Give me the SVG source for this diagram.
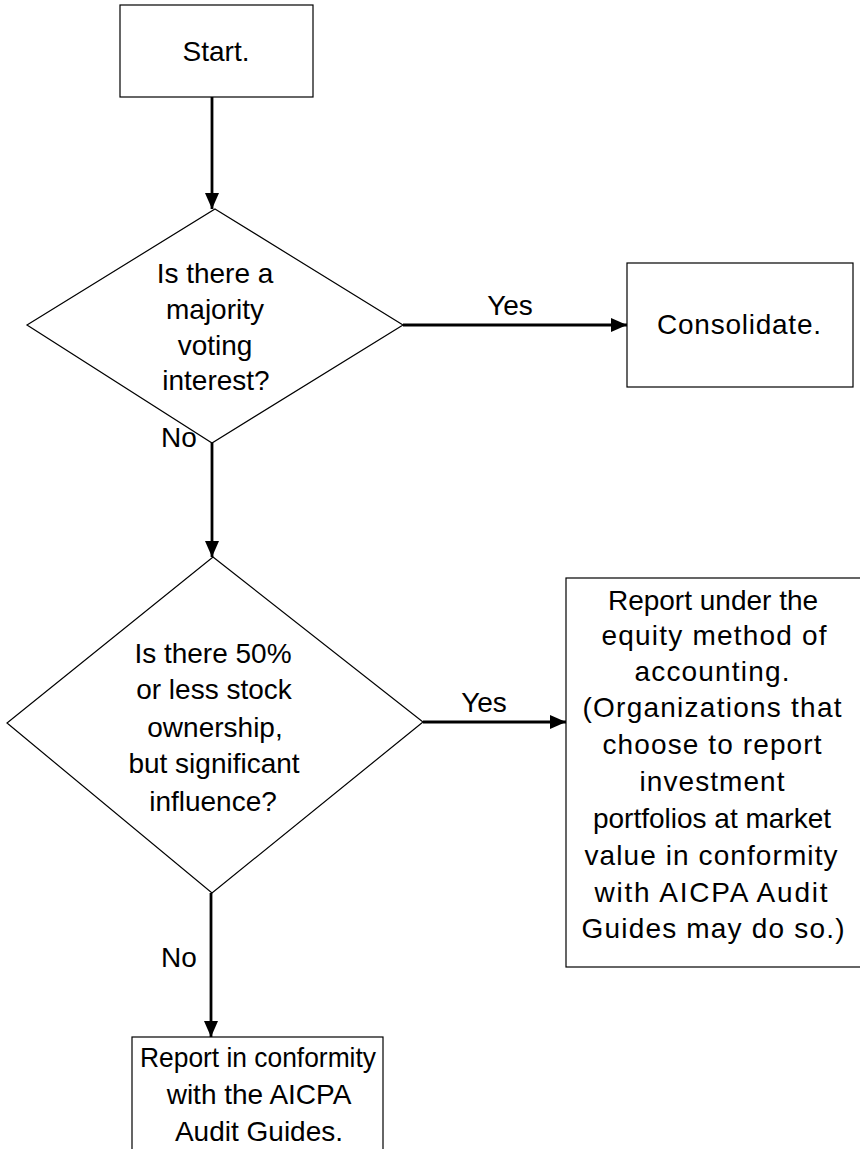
<svg xmlns="http://www.w3.org/2000/svg" width="860" height="1149" viewBox="0 0 860 1149">
<style>
.shape{fill:#fff;stroke:#000;stroke-width:1.2}
.t{font-family:"Liberation Sans",Arial,sans-serif;font-size:28px;fill:#000;text-anchor:middle}
.conn{stroke:#000;stroke-width:2.8;fill:none}
</style>
<defs>
<marker id="ah" viewBox="0 0 16 14" refX="16" refY="7" markerWidth="16" markerHeight="14" markerUnits="userSpaceOnUse" orient="auto">
<path d="M0,0 L16,7 L0,14 Z" fill="#000"/>
</marker>
</defs>
<rect width="860" height="1149" fill="#fff"/>
<g id="connectors">
<line class="conn" x1="212" y1="97" x2="212" y2="209" marker-end="url(#ah)"/>
<line class="conn" x1="403" y1="325" x2="627" y2="325" marker-end="url(#ah)"/>
<line class="conn" x1="212" y1="443" x2="212" y2="557" marker-end="url(#ah)"/>
<line class="conn" x1="423" y1="722" x2="566" y2="722" marker-end="url(#ah)"/>
<line class="conn" x1="211" y1="893" x2="211" y2="1037" marker-end="url(#ah)"/>
<text class="t" x="510" y="315">Yes</text>
<text class="t" x="179" y="447">No</text>
<text class="t" x="484" y="712">Yes</text>
<text class="t" x="179" y="967">No</text>
</g>
<g id="start">
<rect class="shape" x="120" y="5" width="193" height="92"/>
<text class="t" x="216" y="61">Start.</text>
</g>
<g id="decision1">
<polygon class="shape" points="215,209 403,325 212,443 27,325"/>
<text class="t" x="215" y="283">Is there a</text>
<text class="t" x="215" y="319">majority</text>
<text class="t" x="215" y="355">voting</text>
<text class="t" x="216" y="390">interest?</text>
</g>
<g id="consolidate">
<rect class="shape" x="627" y="263" width="226" height="124"/>
<text class="t" x="739" y="334" textLength="164" lengthAdjust="spacing">Consolidate.</text>
</g>
<g id="decision2">
<polygon class="shape" points="213,557 423,722 212,893 7,723"/>
<text class="t" x="213" y="663">Is there 50%</text>
<text class="t" x="214" y="699">or less stock</text>
<text class="t" x="215" y="737">ownership,</text>
<text class="t" x="214" y="773">but significant</text>
<text class="t" x="213" y="811">influence?</text>
</g>
<g id="equity">
<rect class="shape" x="566" y="578" width="300" height="389"/>
<text class="t" x="713" y="610">Report under the</text>
<text class="t" x="714" y="645" textLength="225" lengthAdjust="spacing">equity method of</text>
<text class="t" x="712" y="681" textLength="155" lengthAdjust="spacing">accounting.</text>
<text class="t" x="712" y="717" textLength="259" lengthAdjust="spacing">(Organizations that</text>
<text class="t" x="712" y="754" textLength="219" lengthAdjust="spacing">choose to report</text>
<text class="t" x="712" y="791" textLength="145" lengthAdjust="spacing">investment</text>
<text class="t" x="712" y="828">portfolios at market</text>
<text class="t" x="711" y="865" textLength="253" lengthAdjust="spacing">value in conformity</text>
<text class="t" x="711" y="902" textLength="233" lengthAdjust="spacing">with AICPA Audit</text>
<text class="t" x="713" y="938" textLength="263" lengthAdjust="spacing">Guides may do so.)</text>
</g>
<g id="aicpa">
<rect class="shape" x="132" y="1037" width="251" height="120"/>
<text class="t" x="258" y="1067" textLength="236" lengthAdjust="spacingAndGlyphs">Report in conformity</text>
<text class="t" x="259" y="1104">with the AICPA</text>
<text class="t" x="259" y="1141">Audit Guides.</text>
</g>
</svg>
